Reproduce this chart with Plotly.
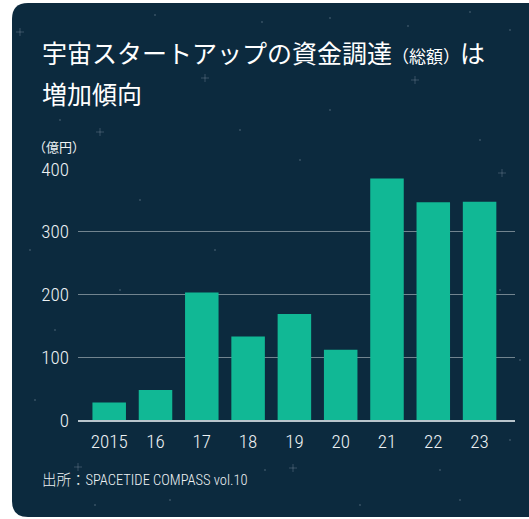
import plotly.graph_objects as go

# Space start-up funding (total), 100 million yen
years = ["2015", "16", "17", "18", "19", "20", "21", "22", "23"]
funding = [28, 48, 203, 133, 169, 112, 385, 347, 348]
y_ticks = [0, 100, 200, 300, 400]

# decorative star field on the card (pixel positions)
star_dots = [(155, 15), (262, 22), (330, 18), (408, 26), (470, 12), (510, 30),
             (60, 120), (140, 200), (30, 250), (55, 330), (35, 400), (500, 290),
             (520, 360), (510, 440), (170, 500), (360, 505), (440, 470),
             (240, 130), (330, 110), (480, 140), (300, 160), (420, 240),
             (215, 250), (120, 290), (265, 470), (460, 500), (95, 505)]
sparkles = [(20, 32), (205, 78), (415, 80), (100, 132), (502, 173), (78, 467), (293, 468)]

W, H = 529, 519
NAVY = "#0c2a3e"
TEAL = "#11b895"
GRID = "#72848f"
TEXT = "#eef2f4"
NARROW = "Liberation Sans Narrow, Roboto Condensed, Arial Narrow, sans-serif"
CJK = "Noto Sans CJK JP, Noto Sans, sans-serif"

# plot area in pixels
L, R, T, B = 78, 515, 169, 420


def xp(px):
    return (px - L) / (R - L)


def yp(py):
    return (B - py) / (B - T)


fig = go.Figure(
    go.Bar(
        x=years,
        y=funding,
        marker=dict(color=TEAL, line=dict(width=0)),
        hoverinfo="x+y",
    )
)

# card with rounded left corners
cx0, cy0, cx1, cy1, rad = 12, 3, 545, 517, 16
card_path = (
    f"M {xp(cx0 + rad)} {yp(cy0)} "
    f"L {xp(cx1)} {yp(cy0)} "
    f"L {xp(cx1)} {yp(cy1)} "
    f"L {xp(cx0 + rad)} {yp(cy1)} "
    f"Q {xp(cx0)} {yp(cy1)} {xp(cx0)} {yp(cy1 - rad)} "
    f"L {xp(cx0)} {yp(cy0 + rad)} "
    f"Q {xp(cx0)} {yp(cy0)} {xp(cx0 + rad)} {yp(cy0)} Z"
)

shapes = [
    dict(type="path", path=card_path, xref="paper", yref="paper",
         fillcolor=NAVY, line=dict(width=0), layer="below"),
]
for sx, sy in star_dots:
    shapes.append(dict(type="circle", xref="paper", yref="paper",
                       xsizemode="pixel", ysizemode="pixel",
                       xanchor=xp(sx), yanchor=yp(sy),
                       x0=-0.8, x1=0.8, y0=-0.8, y1=0.8,
                       fillcolor="rgba(200,215,225,0.4)", line=dict(width=0),
                       layer="below"))
for sx, sy in sparkles:
    for dx, dy in [(4, 0), (0, 4)]:
        shapes.append(dict(type="line", xref="paper", yref="paper",
                           xsizemode="pixel", ysizemode="pixel",
                           xanchor=xp(sx), yanchor=yp(sy),
                           x0=-dx, x1=dx, y0=-dy, y1=dy,
                           line=dict(color="rgba(190,205,215,0.25)", width=1),
                           layer="below"))

annotations = [
    dict(text="宇宙スタートアップの資金調達<span style='font-size:17px'>（総額）</span>は",
         x=xp(40), y=yp(52), xref="paper", yref="paper",
         xanchor="left", yanchor="middle", showarrow=False,
         font=dict(family=CJK, size=25, color="#ffffff")),
    dict(text="増加傾向",
         x=xp(40), y=yp(93), xref="paper", yref="paper",
         xanchor="left", yanchor="middle", showarrow=False,
         font=dict(family=CJK, size=25, color="#ffffff")),
    dict(text="（億円）",
         x=xp(31), y=yp(146), xref="paper", yref="paper",
         xanchor="left", yanchor="middle", showarrow=False,
         font=dict(family=CJK, size=13, color=TEXT)),
    dict(text="出所：SPACETIDE COMPASS vol.10",
         x=xp(40), y=yp(480), xref="paper", yref="paper",
         xanchor="left", yanchor="middle", showarrow=False,
         font=dict(family="Liberation Sans Narrow, Roboto Condensed, Noto Sans CJK JP",
                   size=14.5, color=TEXT, weight=300)),
]

fig.update_layout(
    width=W, height=H,
    margin=dict(l=L, r=W - R, t=T, b=H - B, pad=0),
    paper_bgcolor="#ffffff",
    plot_bgcolor="rgba(0,0,0,0)",
    showlegend=False,
    bargap=0.276,
    shapes=shapes,
    annotations=annotations,
    xaxis=dict(
        type="category",
        range=[-0.674, 8.765],
        showgrid=False, zeroline=False,
        showline=True, linecolor="#b9c5cc", linewidth=2,
        ticks="", ticklabelstandoff=3,
        tickfont=dict(family=NARROW, size=19, color=TEXT, weight=300),
        fixedrange=True,
    ),
    yaxis=dict(
        range=[0, 400],
        tickvals=y_ticks,
        showgrid=True, gridcolor=GRID, gridwidth=1,
        zeroline=False, showline=False,
        ticks="", ticklabelstandoff=8,
        tickfont=dict(family=NARROW, size=19, color=TEXT, weight=300),
        fixedrange=True,
    ),
)

fig.write_html("out.html")
